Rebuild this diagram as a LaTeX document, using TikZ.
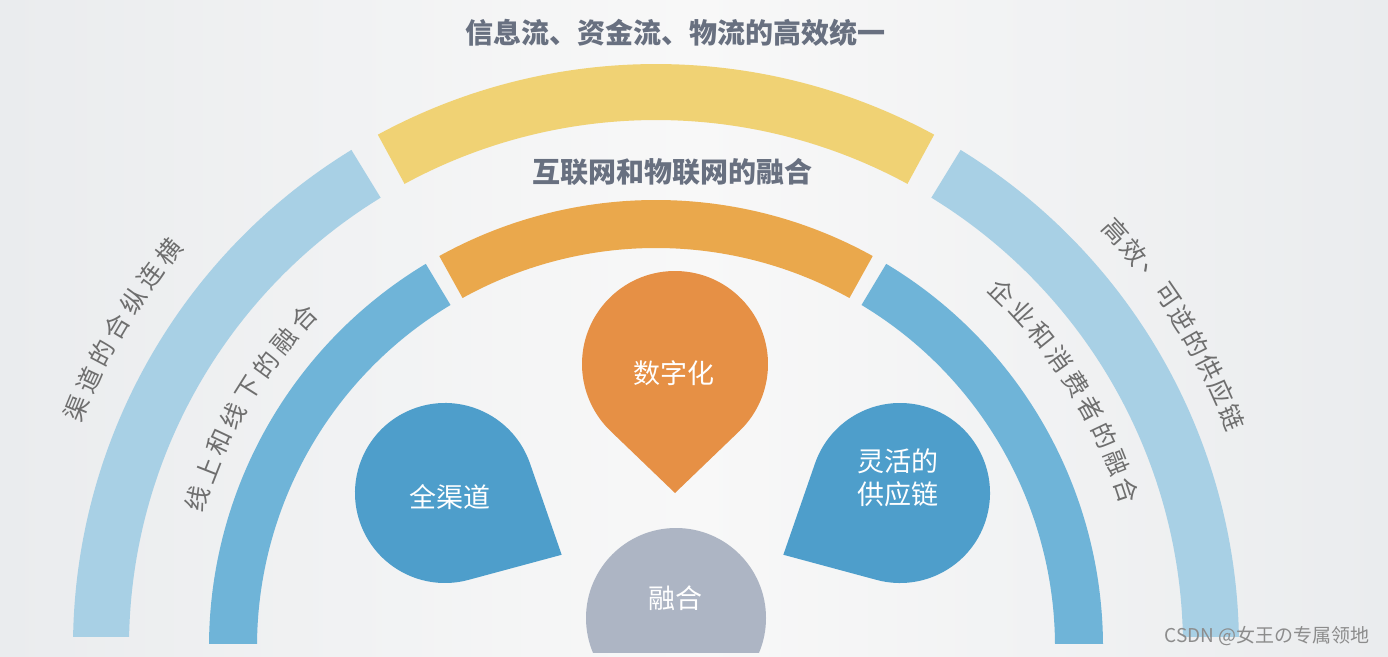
\documentclass[tikz,border=0pt]{standalone}
\usepackage{fontspec}
\setmainfont{Noto Sans CJK SC}
\usetikzlibrary{calc}
\definecolor{bgedge}{HTML}{EAECEE}
\definecolor{bgmid}{HTML}{F8F8F8}
\definecolor{ltblue}{HTML}{A8D0E5}
\definecolor{yel}{HTML}{F0D274}
\definecolor{midblue}{HTML}{6FB4D8}
\definecolor{orgband}{HTML}{EAA84C}
\definecolor{orgdrop}{HTML}{E69045}
\definecolor{dropblue}{HTML}{4E9ECB}
\definecolor{grayc}{HTML}{ADB5C4}
\definecolor{titlegray}{HTML}{687080}
\definecolor{arcgray}{HTML}{6E6E6E}
\definecolor{wmgray}{HTML}{8C8C8C}
\newcommand\ringband[5]{% color, a1, a2, rin, rout
  \fill[#1, shift={(C)}] (#2:#5) arc[start angle=#2, end angle=#3, radius=#5]
    -- (#3:#4) arc[start angle=#3, end angle=#2, radius=#4] -- cycle;}
\newcommand\droppin[6]{% color, cx, cy, r, d, phi
  \pgfmathsetmacro\alp{acos(#4/#5)}
  \fill[#1, shift={(#2,#3)}] (#6+\alp:#4) arc[start angle=#6+\alp, end angle=#6+360-\alp, radius=#4]
    -- (#6:#5) -- cycle;}
\begin{document}
\begin{tikzpicture}[x=1pt,y=1pt,
  titletext/.style={font=\fontsize{28}{30}\selectfont\bfseries, text=titlegray, inner sep=0pt},
  arctext/.style={font=\fontsize{25}{25}\selectfont, text=arcgray, inner sep=0pt},
  droptext/.style={font=\fontsize{27}{33}\selectfont, text=white, align=center, inner sep=0pt},
]
\shade[left color=bgedge, right color=bgedge, middle color=bgmid] (0,0) rectangle (1388,656);
\useasboundingbox (0,0) rectangle (1388,656);
\coordinate (C) at (656,9);

% outer ring
\begin{scope}
  \clip (0,19.5) rectangle (1388,656);
  \ringband{ltblue}{121.5}{181}{527}{583}
  \ringband{yel}{61.5}{118.5}{527}{583}
  \ringband{ltblue}{-1}{58.5}{527}{583}
\end{scope}
% inner ring
\begin{scope}
  \clip (0,13) rectangle (1388,656);
  \ringband{midblue}{121}{181}{399}{447}
  \ringband{orgband}{61}{119}{399}{447}
  \ringband{midblue}{-1}{59}{399}{447}
\end{scope}

% drops
\droppin{orgdrop}{675}{292}{93}{129}{-90}
\droppin{dropblue}{445}{163}{90}{132}{-27.9}
\droppin{dropblue}{900}{163}{90}{132}{-152.1}
\begin{scope}
  \clip (0,4) rectangle (1388,656);
  \fill[grayc] (676,38) circle[radius=90];
\end{scope}

% titles
\node[titletext] (t1) at (675,623) {信息流、资金流、物流的高效统一};
\node[titletext] (t2) at (672,484) {互联网和物联网的融合};

% drop texts
\node[droptext] (d1) at (674,283) {数字化};
\node[droptext] (d2) at (450,159) {全渠道};
\node[droptext] (d3) at (898,178) {灵活的\\供应链};
\node[droptext] (d4) at (675,58) {融合};

% arc texts
\foreach \ch [count=\i from 0] in {渠,道,的,合,纵,连,横}{
  \pgfmathsetmacro\ang{157.6-\i*2.77}
  \node[arctext, rotate=\ang-90] (lo\i) at ([shift={(C)}]\ang:627) {\ch};
}
\foreach \ch [count=\i from 0] in {线,上,和,线,下,的,融,合}{
  \pgfmathsetmacro\ang{162.1-\i*3.6}
  \node[arctext, rotate=\ang-90] (li\i) at ([shift={(C)}]\ang:482) {\ch};
}
\foreach \ch [count=\i from 0] in {企,业,和,消,费,者,的,融,合}{
  \pgfmathsetmacro\ang{45.7-\i*3.41}
  \node[arctext, rotate=\ang-90] (ri\i) at ([shift={(C)}]\ang:496) {\ch};
}
\foreach \ch [count=\i from 0] in {高,效,、,可,逆,的,供,应,链}{
  \pgfmathsetmacro\ang{42.1-\i*2.55}
  \node[arctext, rotate=\ang-90] (ro\i) at ([shift={(C)}]\ang:620) {\ch};
}

% watermark
\node[font=\fontsize{19}{19}\selectfont, text=wmgray, inner sep=0pt] (wm) at (1267,20) {CSDN @女王の专属领地};
\end{tikzpicture}
\end{document}
